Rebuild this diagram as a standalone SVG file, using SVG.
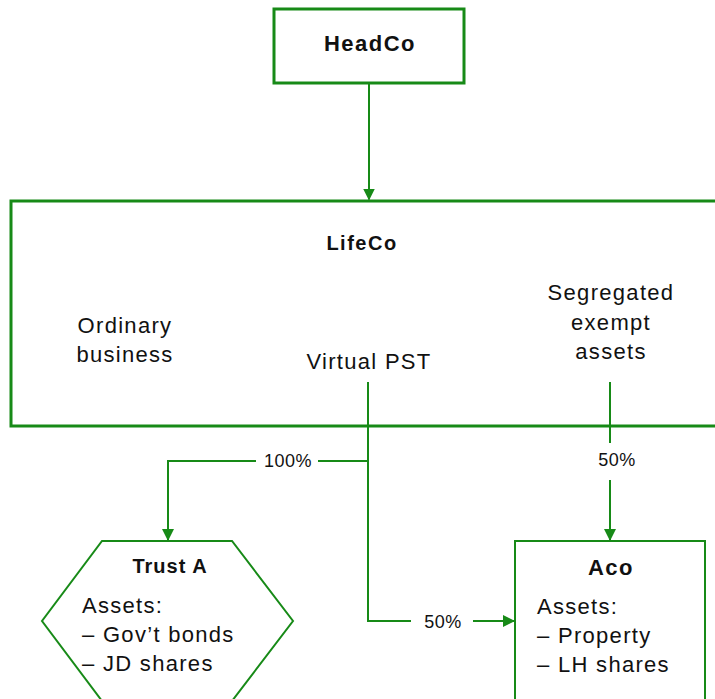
<svg xmlns="http://www.w3.org/2000/svg" width="715" height="699" viewBox="0 0 715 699">
<defs>
<style>
.box{fill:#fff;stroke:#178A17;}
.thick{stroke-width:3;}
.thin{stroke-width:2;}
.conn{fill:none;stroke:#178A17;stroke-width:2;}
text{font-family:"Liberation Sans",Arial,sans-serif;fill:#111;}
.title{font-weight:bold;font-size:21px;text-anchor:middle;letter-spacing:1.5px;}
.body{font-size:22px;letter-spacing:1.3px;}
.mid{text-anchor:middle;}
.pct{font-size:18px;text-anchor:middle;letter-spacing:0.5px;}
</style>
<marker id="arr" viewBox="0 0 12 12" refX="11" refY="6" markerWidth="12" markerHeight="12" markerUnits="userSpaceOnUse" orient="auto">
<path d="M0,0 L12,6 L0,12 Z" fill="#178A17"/>
</marker>
</defs>
<rect width="715" height="699" fill="#fff"/>

<g id="HeadCo">
<rect class="box thick" x="274" y="9" width="190" height="74"/>
<text class="title" x="370" y="51" style="font-size:22px">HeadCo</text>
</g>

<g id="LifeCo">
<rect class="box thick" x="11" y="201" width="720" height="225"/>
<text class="title" x="362" y="250" style="font-size:20px">LifeCo</text>
<text class="body mid" x="125" y="333">Ordinary</text>
<text class="body mid" x="125" y="362">business</text>
<text class="body mid" x="369" y="369">Virtual PST</text>
<text class="body mid" x="611" y="300">Segregated</text>
<text class="body mid" x="611" y="330">exempt</text>
<text class="body mid" x="611" y="359">assets</text>
</g>

<g id="TrustA">
<polygon class="box thin" points="102,541 232,541 293,621 232,701 102,701 42,621"/>
<text class="title" x="170" y="573" style="font-size:20px;letter-spacing:1px">Trust A</text>
<text class="body" x="82" y="613">Assets:</text>
<text class="body" x="82" y="642">– Gov’t bonds</text>
<text class="body" x="82" y="671">– JD shares</text>
</g>

<g id="Aco">
<rect class="box thin" x="515" y="541" width="190" height="170"/>
<text class="title" x="611" y="575" style="font-size:22px">Aco</text>
<text class="body" x="537" y="614">Assets:</text>
<text class="body" x="537" y="643">– Property</text>
<text class="body" x="537" y="672">– LH shares</text>
</g>

<g id="connectors">
<path class="conn" d="M369,83 V199.5" marker-end="url(#arr)"/>
<path class="conn" d="M368,382 V621 H411"/>
<path class="conn" d="M473,621 H514" marker-end="url(#arr)"/>
<path class="conn" d="M368,461 H318"/>
<path class="conn" d="M256,461 H168 V540" marker-end="url(#arr)"/>
<path class="conn" d="M610,382 V443"/>
<path class="conn" d="M610,480 V540" marker-end="url(#arr)"/>
<text class="pct" x="288" y="467">100%</text>
<text class="pct" x="617" y="466">50%</text>
<text class="pct" x="443" y="628">50%</text>
</g>
</svg>
